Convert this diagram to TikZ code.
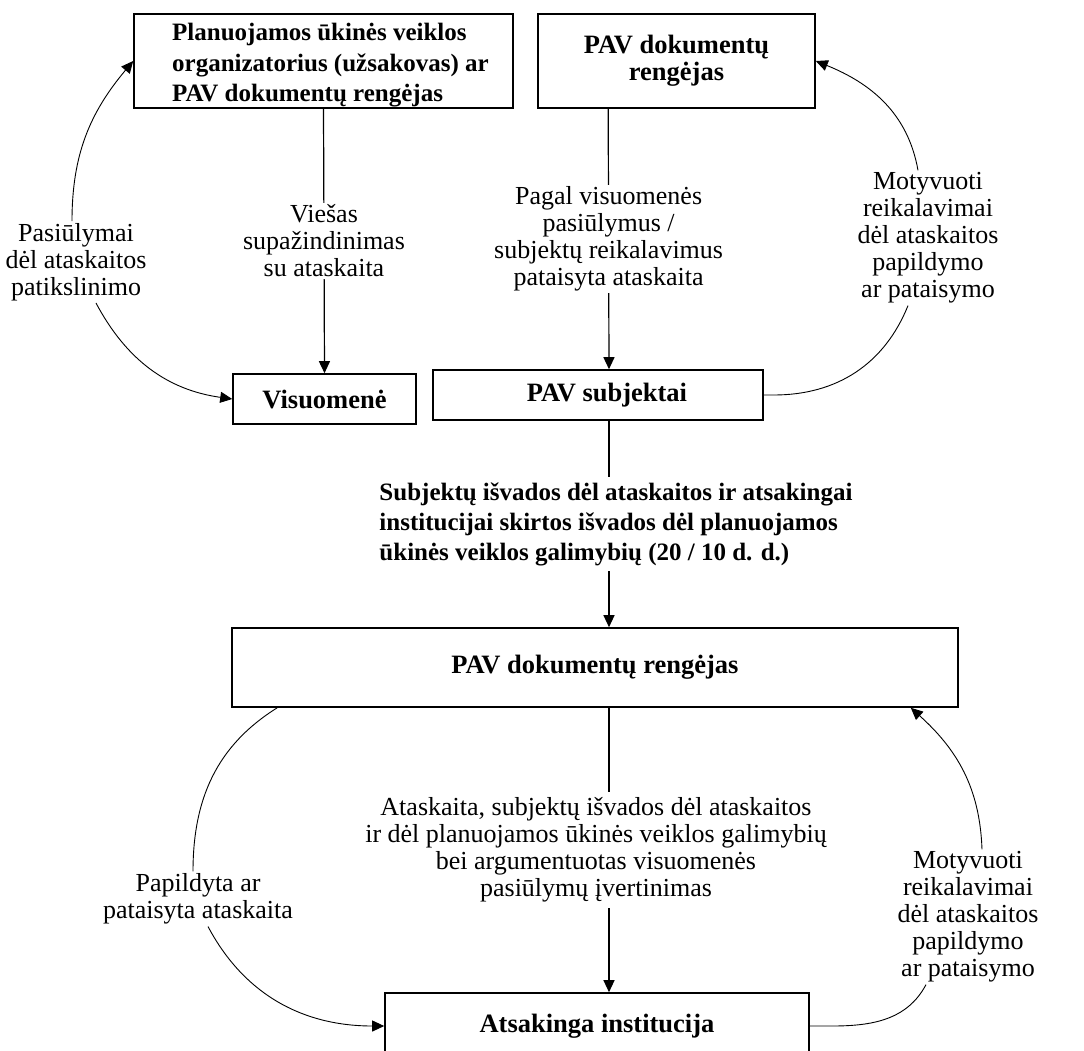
\documentclass[tikz,border=0pt]{standalone}
\usepackage{fontspec}
\setmainfont{Liberation Serif}
\usetikzlibrary{arrows.meta}
\begin{document}
\begin{tikzpicture}[x=1pt,y=-1pt,
  box/.style={draw,line width=1.6pt,inner sep=0pt,font=\bfseries\fontsize{26.5}{27}\selectfont},
  lab/.style={fill=white,inner sep=2pt,align=center,font=\fontsize{26}{27}\selectfont},
  arr/.style={line width=1.2pt,-{Triangle[length=12pt,width=11pt]}},
  cv/.style={line width=0.9pt},
  cva/.style={line width=0.9pt,-{Triangle[length=12pt,width=11pt]}}]
\useasboundingbox (0,0) rectangle (1084,1050);
\clip (0,0) rectangle (1084,1050);
% boxes
\node[box,minimum width=379pt,minimum height=94pt,align=left,font=\bfseries\fontsize{25}{30.5}\selectfont] (b1) at (323.5,61)
  {\hspace*{14pt}\rule{0pt}{26pt}Planuojamos ūkinės veiklos\\\hspace*{14pt}organizatorius (užsakovas) ar\\\hspace*{14pt}PAV dokumentų rengėjas};
\node[box,minimum width=277pt,minimum height=94pt,align=center] (b2) at (676.5,61)
  {PAV dokumentų\\rengėjas};
\node[box,minimum width=183pt,minimum height=50pt] (vis) at (324.5,399) {Visuomenė};
\node[box,minimum width=330pt,minimum height=50pt] (subj) at (598,395) {\hspace*{18pt}PAV subjektai};
\node[box,minimum width=726pt,minimum height=79pt] (big) at (595,667.5) {PAV dokumentų rengėjas};
\node[box,minimum width=424pt,minimum height=66pt] (ats) at (597,1026) {Atsakinga institucija};
% labels on curves
\node[lab] (lp) at (76,262) {Pasiūlymai\\dėl ataskaitos\\patikslinimo};
\node[lab] (lm1) at (928,238) {Motyvuoti\\reikalavimai\\dėl ataskaitos\\papildymo\\ar pataisymo};
\node[lab] (lpp) at (198,899) {Papildyta ar\\pataisyta ataskaita};
\node[lab] (lm2) at (968,917) {Motyvuoti\\reikalavimai\\dėl ataskaitos\\papildymo\\ar pataisymo};
% straight connectors
\draw[arr] (b1.south) -- node[lab]{Viešas\\supažindinimas\\su ataskaita} (vis.north);
\draw[arr] ([xshift=71pt]b2.south west) -- node[lab]{Pagal visuomenės\\pasiūlymus /\\subjektų reikalavimus\\pataisyta ataskaita} ([xshift=11pt]subj.north);
\draw[arr] ([xshift=11pt]subj.south) -- node[lab,xshift=7pt,align=left,font=\bfseries\fontsize{25}{30}\selectfont,inner sep=5pt]{Subjektų išvados dėl ataskaitos ir atsakingai\\institucijai skirtos išvados dėl planuojamos\\ūkinės veiklos galimybių (20 / 10 d. d.)} ([xshift=14pt]big.north);
\draw[arr] ([xshift=14pt]big.south) -- node[lab,xshift=-13pt,inner sep=6pt]{Ataskaita, subjektų išvados dėl ataskaitos\\ir dėl planuojamos ūkinės veiklos galimybių\\bei argumentuotas visuomenės\\pasiūlymų įvertinimas} ([xshift=12pt]ats.north);
% curved connectors
\draw[cva] ([xshift=-4pt]lp.north) to[out=90,in=-130] (b1.west);
\draw[cva] ([xshift=20pt]lp.south) to[out=-62,in=172] (vis.west);
\draw[cva] ([xshift=-10pt]lm1.north) to[out=100,in=-22] (b2.east);
\draw[cv] (subj.east) -- ++(10,0) to[out=0,in=-112] ([xshift=-20pt]lm1.south);
\draw[cv] ([xshift=46pt]big.south west) to[out=-148,in=90] ([xshift=-5pt]lpp.north);
\draw[cva] ([xshift=10pt]lpp.south) to[out=-62,in=180] (ats.west);
\draw[cva] ([xshift=14pt]lm2.north) to[out=92,in=-42] ([xshift=-48pt]big.south east);
\draw[cv] (ats.east) -- ++(22,0) to[out=0,in=-118] ([xshift=-42pt]lm2.south);
\end{tikzpicture}
\end{document}
